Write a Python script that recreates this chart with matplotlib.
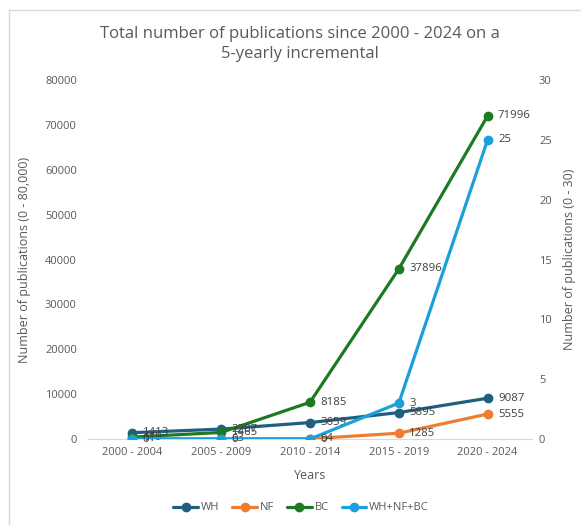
import matplotlib
matplotlib.use("Agg")
import matplotlib.pyplot as plt
from matplotlib.lines import Line2D

plt.rcParams['font.family'] = ['Open Sans', 'DejaVu Sans']

categories = ["2000 - 2004", "2005 - 2009", "2010 - 2014", "2015 - 2019", "2020 - 2024"]
wh = [1413, 2207, 3659, 5895, 9087]
nf = [11, 63, 54, 1285, 5555]
bc = [419, 1465, 8185, 37896, 71996]
combined = [0, 0, 0, 3, 25]

c_wh = "#1F5F7F"
c_nf = "#ED7D31"
c_bc = "#1E7A22"
c_all = "#1CA0DC"
txt = "#595959"

W, H = 581, 525
fig = plt.figure(figsize=(W/100, H/100), dpi=100)
ax = fig.add_axes([88/W, 1-439/H, 444/W, 359/H])
ax2 = ax.twinx()

x = list(range(len(categories)))
kw = dict(marker='o', markersize=6, linewidth=2.3, solid_capstyle='round')
l1, = ax.plot(x, wh, color=c_wh, label="WH", zorder=3, **kw)
l2, = ax.plot(x, nf, color=c_nf, label="NF", zorder=3, **kw)
l3, = ax.plot(x, bc, color=c_bc, label="BC", zorder=3, **kw)
l4, = ax2.plot(x, combined, color=c_all, label="WH+NF+BC", zorder=3, **kw)

for series in (wh, nf, bc):
    for xi, v in zip(x, series):
        ax.annotate(f"{v}", (xi, v), xytext=(7.5, 0), textcoords='offset points',
                    va='center', ha='left', fontsize=8.2, color="#404040")
for xi, v in zip(x, combined):
    ax2.annotate(f"{v}", (xi, v), xytext=(7.5, 0), textcoords='offset points',
                 va='center', ha='left', fontsize=8.2, color="#404040")

ax.set_xlim(-0.5, 4.5)
ax.set_ylim(0, 80000)
ax.set_yticks(range(0, 80001, 10000))
ax2.set_ylim(0, 30)
ax2.set_yticks(range(0, 31, 5))
ax.set_xticks(x)
ax.set_xticklabels(categories)

for a in (ax, ax2):
    for s in a.spines.values():
        s.set_visible(False)
    a.tick_params(length=0, labelsize=8, colors=txt)
ax.spines['bottom'].set_visible(True)
ax.spines['bottom'].set_color("#D9D9D9")
ax.tick_params(axis='y', pad=8)
ax2.tick_params(axis='y', pad=5)
ax.tick_params(axis='x', pad=6)

ax.set_ylabel("Number of publications (0 - 80,000)", fontsize=9, color=txt, labelpad=10)
ax2.set_ylabel("Number of publications (0 - 30)", fontsize=9, color=txt, labelpad=8)
ax.set_xlabel("Years", fontsize=9, color=txt, labelpad=8)

fig.text(300/W, 1-44/H, "Total number of publications since 2000 - 2024 on a\n5-yearly incremental",
         ha='center', va='center', fontsize=12, color=txt, linespacing=1.3)

fig.legend(handles=[l1, l2, l3, l4], loc='center', bbox_to_anchor=(301/W, 1-508/H),
           ncol=4, frameon=False, fontsize=8, labelcolor=txt, handlelength=2.2,
           handletextpad=0.25, columnspacing=1.2, markerscale=1.0)

fig.add_artist(Line2D([9/W, 1], [1-10/H, 1-10/H], color="#D9D9D9", lw=1, transform=fig.transFigure))
fig.add_artist(Line2D([9/W, 9/W], [1-10/H, 0], color="#D9D9D9", lw=1, transform=fig.transFigure))

fig.savefig("out.png", dpi=100)
